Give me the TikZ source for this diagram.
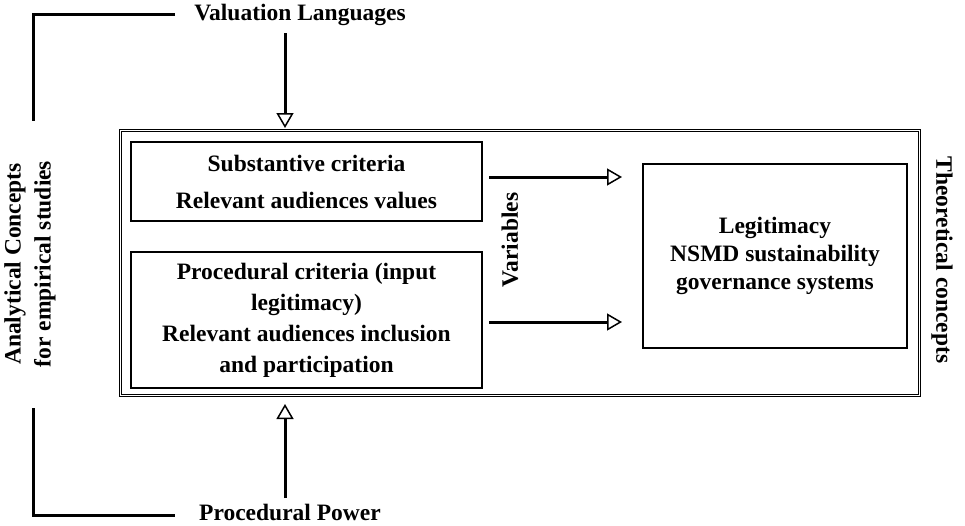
\documentclass[tikz,border=0pt]{standalone}
\usepackage{fontspec}
\setmainfont{Liberation Serif}
\usetikzlibrary{arrows.meta}
\begin{document}
\begin{tikzpicture}[x=1pt,y=-1pt,
  box/.style={draw, line width=2pt, align=center, inner sep=0pt},
  lbl/.style={font=\fontsize{23.5}{30}\selectfont\bfseries, align=center, inner sep=0pt},
  conn/.style={line width=3pt, -{Triangle[open, length=15pt, width=17pt, line width=1.5pt]}},
  brk/.style={line width=3pt}]
\useasboundingbox (0,0) rectangle (965,525);
\node[draw, double, double distance=1.2pt, line width=1pt, minimum width=799pt, minimum height=265pt, inner sep=0pt] (outer) at (520,263) {};
\node[box, minimum width=351pt, minimum height=79pt, font=\fontsize{23.5}{37}\selectfont\bfseries] (subst) at (306.5,181.5) {Substantive criteria\\Relevant audiences values};
\node[box, minimum width=351pt, minimum height=136pt, font=\fontsize{23.5}{31}\selectfont\bfseries] (proc) at (306.5,320) {Procedural criteria (input\\legitimacy)\\Relevant audiences inclusion\\and participation};
\node[box, minimum width=264pt, minimum height=184pt, font=\fontsize{23.5}{28}\selectfont\bfseries] (legit) at (775,256) {Legitimacy\\NSMD sustainability\\governance systems};
\node[lbl] (val) at (300,15) {Valuation Languages};
\node[lbl] (pp) at (290,512) {Procedural Power};
\node[lbl, rotate=90] (var) at (510,240) {Variables};
\node[lbl, rotate=-90] (theo) at (942,260) {Theoretical concepts};
\node[lbl, rotate=90] (anal) at (30,264) {Analytical Concepts\\for empirical studies};
\coordinate (vtop) at (285,33);
\coordinate (pbot) at (285,498);
\draw[conn, shorten >=2pt] (vtop) -- (vtop |- outer.north);
\draw[conn, shorten >=8pt] (pbot) -- (pbot |- outer.south);
\draw[conn, shorten <=6pt, shorten >=20pt] ([yshift=4.5pt]subst.east) -- ([yshift=4.5pt]subst.east -| legit.west);
\draw[conn, shorten <=6pt, shorten >=20pt] ([yshift=-2pt]proc.east) -- ([yshift=-2pt]proc.east -| legit.west);
\draw[brk] (175,14) -- (33,14) -- (33,121);
\draw[brk] (33,408) -- (33,515) -- (175,515);
\end{tikzpicture}
\end{document}
